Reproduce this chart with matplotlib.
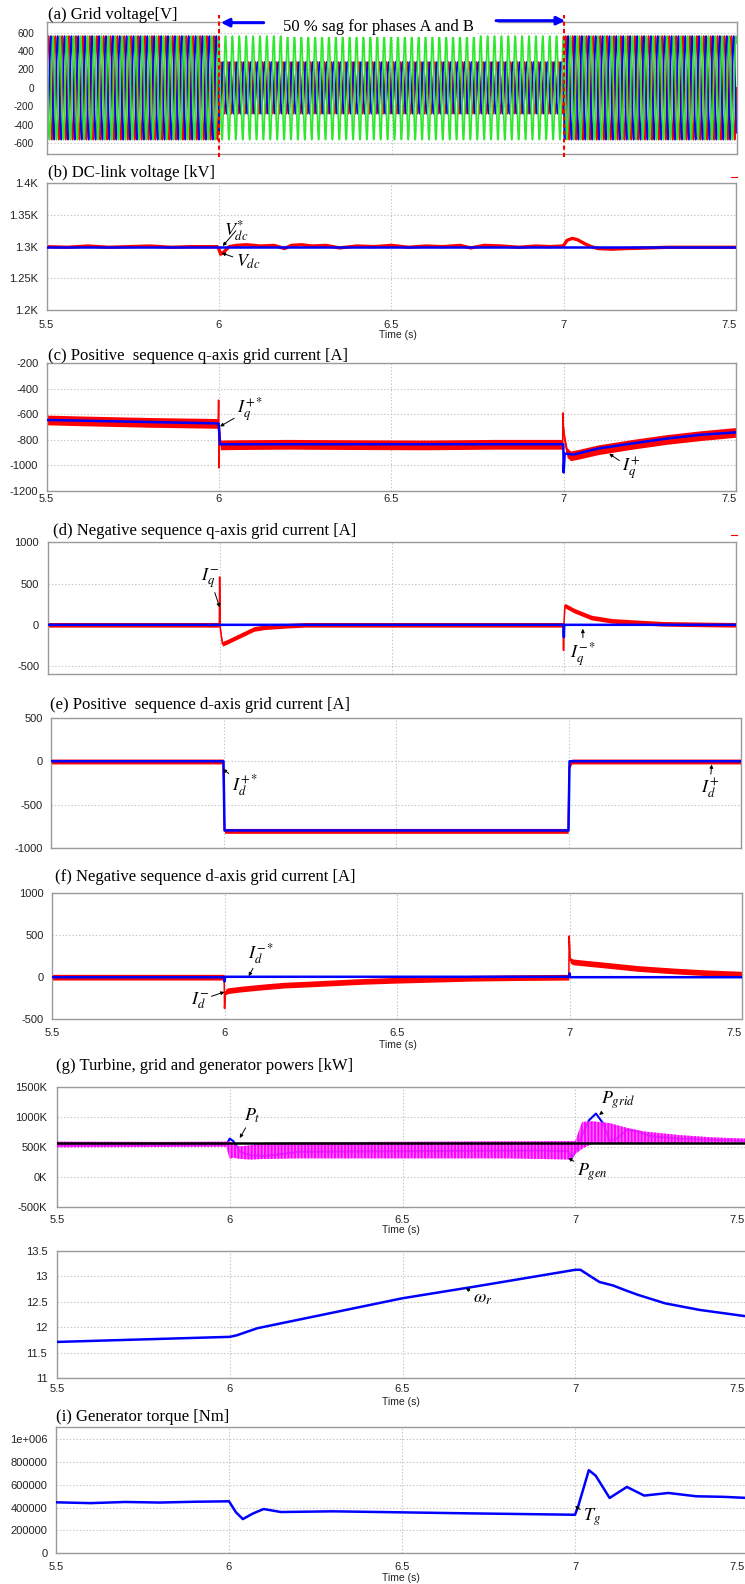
import numpy as np
import matplotlib
matplotlib.use("Agg")
import matplotlib.pyplot as plt
from matplotlib.lines import Line2D
from matplotlib.transforms import ScaledTranslation

plt.rcParams["font.family"] = ["Liberation Sans", "DejaVu Sans"]
plt.rcParams["mathtext.fontset"] = "stix"
plt.rcParams["hatch.linewidth"] = 1.4

# ======================= DATA =======================
time_ticks = [5.5, 6.0, 6.5, 7.0, 7.5]
time_tick_labels = ["5.5", "6", "6.5", "7", "7.5"]
fault_times = [6.0, 7.0]

# (a) grid voltage, phases A, B, C
grid_freq_hz = 50.0
phase_angle_deg = [0.0, -120.0, 120.0]
amp_normal = [564.0, 564.0, 564.0]
amp_sag = [282.0, 282.0, 564.0]
volt_ticks = [-600, -400, -200, 0, 200, 400, 600]

# (b) DC-link voltage
vdc_ref_t = [5.5, 7.5]
vdc_ref = [1300, 1300]
vdc_t = [5.5, 5.56, 5.62, 5.68, 5.74, 5.8, 5.86, 5.92, 5.97, 5.995,
         6.0, 6.005, 6.015, 6.03, 6.05, 6.08, 6.12, 6.16, 6.19, 6.21,
         6.24, 6.27, 6.31, 6.35, 6.4, 6.45, 6.5, 6.55, 6.6, 6.65,
         6.7, 6.73, 6.77, 6.82, 6.87, 6.92, 6.96, 6.995, 7.0, 7.01,
         7.025, 7.04, 7.06, 7.08, 7.1, 7.14, 7.18, 7.25, 7.3, 7.4, 7.5]
vdc = [1300, 1299, 1301, 1299, 1300, 1301, 1299, 1300, 1300, 1300,
       1296, 1288, 1292, 1300, 1302, 1303, 1301, 1302, 1297, 1302,
       1303, 1301, 1302, 1298, 1301, 1300, 1302, 1299, 1301, 1300,
       1302, 1298, 1302, 1301, 1299, 1301, 1300, 1301, 1302, 1310,
       1313, 1311, 1305, 1300, 1297, 1296, 1297, 1298, 1299, 1299, 1299]
vdc_ticks = [1200, 1250, 1300, 1350, 1400]
vdc_tick_labels = ["1.2K", "1.25K", "1.3K", "1.35K", "1.4K"]

# (c) positive-sequence q-axis current
iqp_t = [5.5, 5.6, 5.7, 5.8, 5.9, 5.998, 5.999, 6.0, 6.001, 6.004, 6.05, 6.2, 6.4,
         6.6, 6.8, 6.997, 6.998, 6.999, 7.003, 7.01, 7.02, 7.04, 7.1, 7.2, 7.3, 7.4, 7.5]
iqp = [-645, -652, -658, -664, -668, -672, -490, -1020, -700, -840, -838, -835, -838,
       -840, -835, -835, -590, -700, -800, -900, -925, -915, -878, -835, -797, -767, -742]
iqp_noise = 38
iqp_ref_t = [5.5, 5.999, 6.003, 6.999, 7.0, 7.003, 7.03, 7.1, 7.2, 7.3, 7.4, 7.5]
iqp_ref = [-645, -672, -835, -835, -1055, -908, -915, -868, -828, -790, -760, -742]
iqp_ticks = [-1200, -1000, -800, -600, -400, -200]

# (d) negative-sequence q-axis current
iqn_t = [5.5, 5.999, 6.0, 6.002, 6.008, 6.02, 6.05, 6.08, 6.1, 6.13, 6.19, 6.25,
         6.5, 6.998, 6.999, 7.0, 7.003, 7.03, 7.08, 7.14, 7.22, 7.29, 7.4, 7.5]
iqn = [0, 0, 580, -50, -230, -210, -150, -90, -50, -30, -12, 0,
       0, 0, -310, 0, 233, 172, 88, 48, 28, 12, 5, 0]
iqn_noise = 28
iqn_ref_t = [5.5, 6.999, 7.0, 7.001, 7.5]
iqn_ref = [0, 0, -150, 0, 0]
iqn_ticks = [-500, 0, 500, 1000]

# (e) positive-sequence d-axis current
idp_t = [5.5, 5.999, 6.003, 6.999, 7.002, 7.01, 7.5]
idp = [-3, -3, -800, -800, -60, -3, -3]
idp_noise = 28
idp_ref_t = [5.5, 6.0, 6.003, 7.0, 7.003, 7.5]
idp_ref = [0, 0, -795, -795, 0, 0]
idp_ticks = [-1000, -500, 0, 500]

# (f) negative-sequence d-axis current
idn_t = [5.5, 5.999, 6.0, 6.003, 6.01, 6.05, 6.1, 6.17, 6.25, 6.31, 6.4, 6.5, 6.6,
         6.72, 6.85, 6.998, 6.999, 7.002, 7.01, 7.05, 7.1, 7.2, 7.3, 7.35, 7.4, 7.5]
idn = [0, 0, -370, -175, -160, -140, -120, -95, -80, -68, -50, -36, -25,
       -12, -5, 0, 490, 200, 182, 165, 145, 103, 75, 63, 52, 36]
idn_noise = 34
idn_ref_t = [5.5, 5.999, 6.0, 6.002, 6.999, 7.0, 7.002, 7.5]
idn_ref = [0, 0, -50, 5, 5, 45, 0, 0]
idn_ticks = [-500, 0, 500, 1000]

# (g) powers [kW]
pt_t = [5.5, 7.5]
pt = [567, 567]
pgen_t = [5.5, 5.8, 5.99, 6.0, 6.01, 6.03, 6.06, 6.1, 6.2, 6.4, 6.6, 6.8, 6.99,
          7.0, 7.02, 7.05, 7.1, 7.15, 7.2, 7.3, 7.4, 7.5]
pgen_hi = [590, 585, 590, 600, 540, 510, 530, 570, 580, 585, 590, 595, 600,
           600, 920, 930, 900, 820, 760, 700, 660, 640]
pgen_lo = [495, 500, 505, 300, 320, 300, 290, 300, 310, 310, 310, 310, 290,
           380, 470, 560, 560, 560, 565, 570, 575, 580]
pgrid_t = [5.5, 5.7, 5.9, 5.99, 6.0, 6.01, 6.03, 6.06, 6.1, 6.15, 6.2, 6.5, 6.9, 6.98,
           6.99, 7.0, 7.02, 7.04, 7.06, 7.08, 7.1, 7.12, 7.15, 7.18, 7.22, 7.3, 7.4, 7.5]
pgrid = [530, 528, 535, 540, 640, 600, 420, 360, 350, 380, 420, 430, 440, 430,
         320, 420, 700, 950, 1060, 900, 600, 640, 790, 760, 680, 640, 620, 600]
pow_ticks = [-500, 0, 500, 1000, 1500]
pow_tick_labels = ["-500K", "0K", "500K", "1000K", "1500K"]

# (h) generator speed
wr_t = [5.5, 6.0, 6.02, 6.08, 6.5, 6.71, 7.0, 7.015, 7.04, 7.07, 7.11, 7.14, 7.18, 7.26, 7.36, 7.5]
wr = [11.71, 11.81, 11.84, 11.98, 12.57, 12.80, 13.13, 13.13, 13.02, 12.89, 12.82, 12.74,
      12.64, 12.47, 12.34, 12.21]
wr_ticks = [11, 11.5, 12, 12.5, 13, 13.5]

# (i) generator torque
tg_t = [5.5, 5.6, 5.7, 5.8, 5.9, 6.0, 6.02, 6.04, 6.07, 6.1, 6.15, 6.3, 6.5, 6.7, 6.9,
        7.0, 7.01, 7.04, 7.06, 7.1, 7.15, 7.2, 7.27, 7.35, 7.43, 7.5]
tg = [447e3, 440e3, 450e3, 445e3, 452e3, 456e3, 360e3, 300e3, 350e3, 388e3, 362e3,
      368e3, 359e3, 350e3, 342e3, 338e3, 420e3, 729e3, 680e3, 485e3, 582e3, 506e3,
      529e3, 500e3, 495e3, 485e3]
tg_ticks = [0, 200000, 400000, 600000, 800000, 1000000]
tg_tick_labels = ["0", "200000", "400000", "600000", "800000", "1e+006"]

# ======================= FIGURE =======================
W, H = 745.0, 1584.0
fig = plt.figure(figsize=(7.45, 15.84), dpi=100)

RED, BLUE, GREEN, MAG = "#ff0000", "#0000ff", "#2ee82e", "#ff00ff"
SERIF = "Liberation Serif"


def panel(x0, x1, y0, y1):
    return fig.add_axes([x0 / W, 1 - y1 / H, (x1 - x0) / W, (y1 - y0) / H])


def style(ax, ylim, yticks, ylabels=None, xlabels=True, xpad=4.0, ypad=6.0,
          size=8.0, last_shift=None):
    ax.set_xlim(5.5, 7.5)
    ax.set_ylim(*ylim)
    ax.set_xticks(time_ticks)
    ax.set_xticklabels(time_tick_labels)
    ax.set_yticks(yticks)
    ax.set_yticklabels(ylabels if ylabels is not None else [str(v) for v in yticks])
    ax.tick_params(length=0, labelsize=size, colors="#222222")
    ax.tick_params(axis="x", pad=xpad, labelbottom=xlabels)
    ax.tick_params(axis="y", pad=ypad)
    ax.grid(True, color="#c4c4c4", linestyle=(0, (1.2, 1.8)), linewidth=0.8)
    ax.set_axisbelow(True)
    for s in ax.spines.values():
        s.set_color("#9a9a9a")
        s.set_linewidth(1.0)
    if xlabels and last_shift is not None:
        lab = ax.get_xticklabels()[-1]
        lab.set_horizontalalignment("right")
        lab.set_transform(lab.get_transform() +
                          ScaledTranslation(last_shift / 100.0, 0, fig.dpi_scale_trans))


def title(x, y, txt):
    fig.text(x / W, 1 - y / H, txt, family=SERIF, fontsize=12, ha="left", va="center")


def time_label(x, y):
    fig.text(x / W, 1 - y / H, "Time (s)", fontsize=7.5, ha="center", va="center",
             color="#222222")


def label(ax, txt, xy, xytext, size=13):
    ax.annotate(txt, xy=xy, xytext=xytext, fontsize=size, ha="center", va="center",
                annotation_clip=False, zorder=8,
                arrowprops=dict(arrowstyle="-|>", color="black", lw=0.7,
                                mutation_scale=5, shrinkA=0, shrinkB=0))


def noisy(ax, t, c, hw):
    t = np.asarray(t, float)
    c = np.asarray(c, float)
    ax.fill_between(t, c - hw, c + hw, color=RED, lw=0, zorder=2)
    ax.plot(t, c, color=RED, lw=1.1, zorder=2)


def dash(x, y, col):
    fig.add_artist(Line2D([x / W, (x + 6) / W], [1 - y / H, 1 - y / H], color=col, lw=0.8))


# ---------- (a) ----------
ax = panel(46.7, 736.5, 22, 154)
style(ax, (-720, 717), volt_ticks, xlabels=False, ypad=9, size=7.2)
ta = np.linspace(5.5, 7.5, 40001)
in_sag = (ta >= fault_times[0]) & (ta < fault_times[1])
for a_n, a_s, ang, col in zip(amp_normal, amp_sag, phase_angle_deg, [RED, BLUE, GREEN]):
    amp = np.where(in_sag, a_s, a_n)
    ax.plot(ta, amp * np.sin(2 * np.pi * grid_freq_hz * ta + np.radians(ang)),
            color=col, lw=1.2, zorder=2)
xt = ax.get_xaxis_transform()
for ft in fault_times:
    ax.plot([ft, ft], [-0.025, 1.055], transform=xt, color=RED, lw=1.5,
            ls=(0, (2, 1.5)), clip_on=False, zorder=6)
ax.plot([6.129, 6.803], [1.0, 1.0], transform=xt, color="white", lw=3, zorder=4, clip_on=False)
ax.text(6.463, 0.962, "50 % sag for phases A and B", transform=xt, ha="center", va="center",
        family=SERIF, fontsize=12, zorder=5,
        bbox=dict(boxstyle="square,pad=0.1", facecolor="white", edgecolor="none"))
arr = dict(arrowstyle="-|>", color=BLUE, lw=2.2, mutation_scale=12, shrinkA=0, shrinkB=0)
ax.annotate("", xy=(6.005, 0.995), xytext=(6.129, 0.995), xycoords=xt, arrowprops=arr,
            annotation_clip=False, zorder=7)
ax.annotate("", xy=(7.003, 1.01), xytext=(6.803, 1.01), xycoords=xt, arrowprops=arr,
            annotation_clip=False, zorder=7)
title(48, 15, "(a) Grid voltage[V]")

# ---------- (b) ----------
ax = panel(46.6, 736, 183.3, 310)
style(ax, (1200, 1400), vdc_ticks, vdc_tick_labels, xpad=7, last_shift=1)
ax.plot(vdc_t, vdc, color=RED, lw=2.4, zorder=2)
ax.plot(vdc_ref_t, vdc_ref, color=BLUE, lw=1.8, zorder=3)
label(ax, r"$V^{*}_{dc}$", (6.011, 1301), (6.049, 1325))
label(ax, r"$V_{dc}$", (6.008, 1290), (6.084, 1275.5))
title(48, 173, "(b) DC-link voltage [kV]")
time_label(398, 335)
dash(731, 177, RED)

# ---------- (c) ----------
ax = panel(46.6, 736, 363, 491)
style(ax, (-1200, -200), iqp_ticks, xpad=2.5, last_shift=1)
noisy(ax, iqp_t, iqp, iqp_noise)
ax.plot(iqp_ref_t, iqp_ref, color=BLUE, lw=1.8, zorder=3)
label(ax, r"$I_q^{+*}$", (6.003, -696), (6.09, -560))
label(ax, r"$I_q^{+}$", (7.132, -909), (7.196, -1024))
title(48.5, 356, "(c) Positive  sequence q-axis grid current [A]")

# ---------- (d) ----------
ax = panel(47.5, 736, 542.3, 674)
style(ax, (-596, 1000), iqn_ticks, xlabels=False)
noisy(ax, iqn_t, iqn, iqn_noise)
ax.plot(iqn_ref_t, iqn_ref, color=BLUE, lw=1.8, zorder=3)
label(ax, r"$I_q^{-}$", (6.0, 212), (5.972, 570))
label(ax, r"$I_q^{-*}$", (7.055, -48), (7.056, -358))
title(53, 531, "(d) Negative sequence q-axis grid current [A]")
dash(731, 535, RED)

# ---------- (e) ----------
ax = panel(51, 741, 717.7, 848.3)
style(ax, (-1000, 500), idp_ticks, xlabels=False)
noisy(ax, idp_t, idp, idp_noise)
ax.plot(idp_ref_t, idp_ref, color=BLUE, lw=1.8, zorder=3)
label(ax, r"$I_d^{+*}$", (5.998, -90), (6.061, -276))
label(ax, r"$I_d^{+}$", (7.415, -37), (7.409, -320))
title(50, 705, "(e) Positive  sequence d-axis grid current [A]")

# ---------- (f) ----------
ax = panel(52, 742, 893, 1019.3)
style(ax, (-500, 1000), idn_ticks, xpad=6, last_shift=0)
noisy(ax, idn_t, idn, idn_noise)
ax.plot(idn_ref_t, idn_ref, color=BLUE, lw=1.8, zorder=3)
label(ax, r"$I_d^{-*}$", (6.07, 12), (6.107, 286))
label(ax, r"$I_d^{-}$", (6.0, -175), (5.928, -274))
title(54.6, 877, "(f) Negative sequence d-axis grid current [A]")
time_label(398, 1045)

# ---------- (g) ----------
ax = panel(57, 748, 1087.3, 1206.7)
style(ax, (-500, 1500), pow_ticks, pow_tick_labels, xpad=6, ypad=7, last_shift=-3)
ax.plot(pgrid_t, pgrid, color=BLUE, lw=1.5, zorder=2)
ax.fill_between(pgen_t, pgen_lo, pgen_hi, facecolor=(1.0, 0.3, 1.0, 0.8),
                edgecolor=MAG, hatch="|||||", lw=0, zorder=3)
ax.plot(pt_t, pt, color="black", lw=1.8, zorder=4)
label(ax, r"$P_t$", (6.029, 650), (6.066, 1022))
label(ax, r"$P_{grid}$", (7.069, 1037), (7.124, 1288))
label(ax, r"$P_{gen}$", (6.98, 317), (7.049, 71))
title(56, 1066, "(g) Turbine, grid and generator powers [kW]")
time_label(401, 1230)

# ---------- (h) ----------
ax = panel(57, 748, 1251, 1378)
style(ax, (11, 13.5), wr_ticks, [f"{v:g}" for v in wr_ticks], xpad=4.5, ypad=7, last_shift=-3)
ax.plot(wr_t, wr, color=BLUE, lw=1.8, zorder=3)
label(ax, r"$\omega_r$", (6.683, 12.77), (6.731, 12.57))
time_label(401, 1402)

# ---------- (i) ----------
ax = panel(56, 748, 1426.7, 1553.3)
style(ax, (0, 1.11e6), tg_ticks, tg_tick_labels, xpad=6.5, ypad=6, last_shift=-3)
ax.plot(tg_t, tg, color=BLUE, lw=1.8, zorder=3)
label(ax, r"$T_g$", (7.0, 413000), (7.049, 320000))
title(56, 1417, "(i) Generator torque [Nm]")
time_label(401, 1578)

fig.savefig("out.png", dpi=100)
